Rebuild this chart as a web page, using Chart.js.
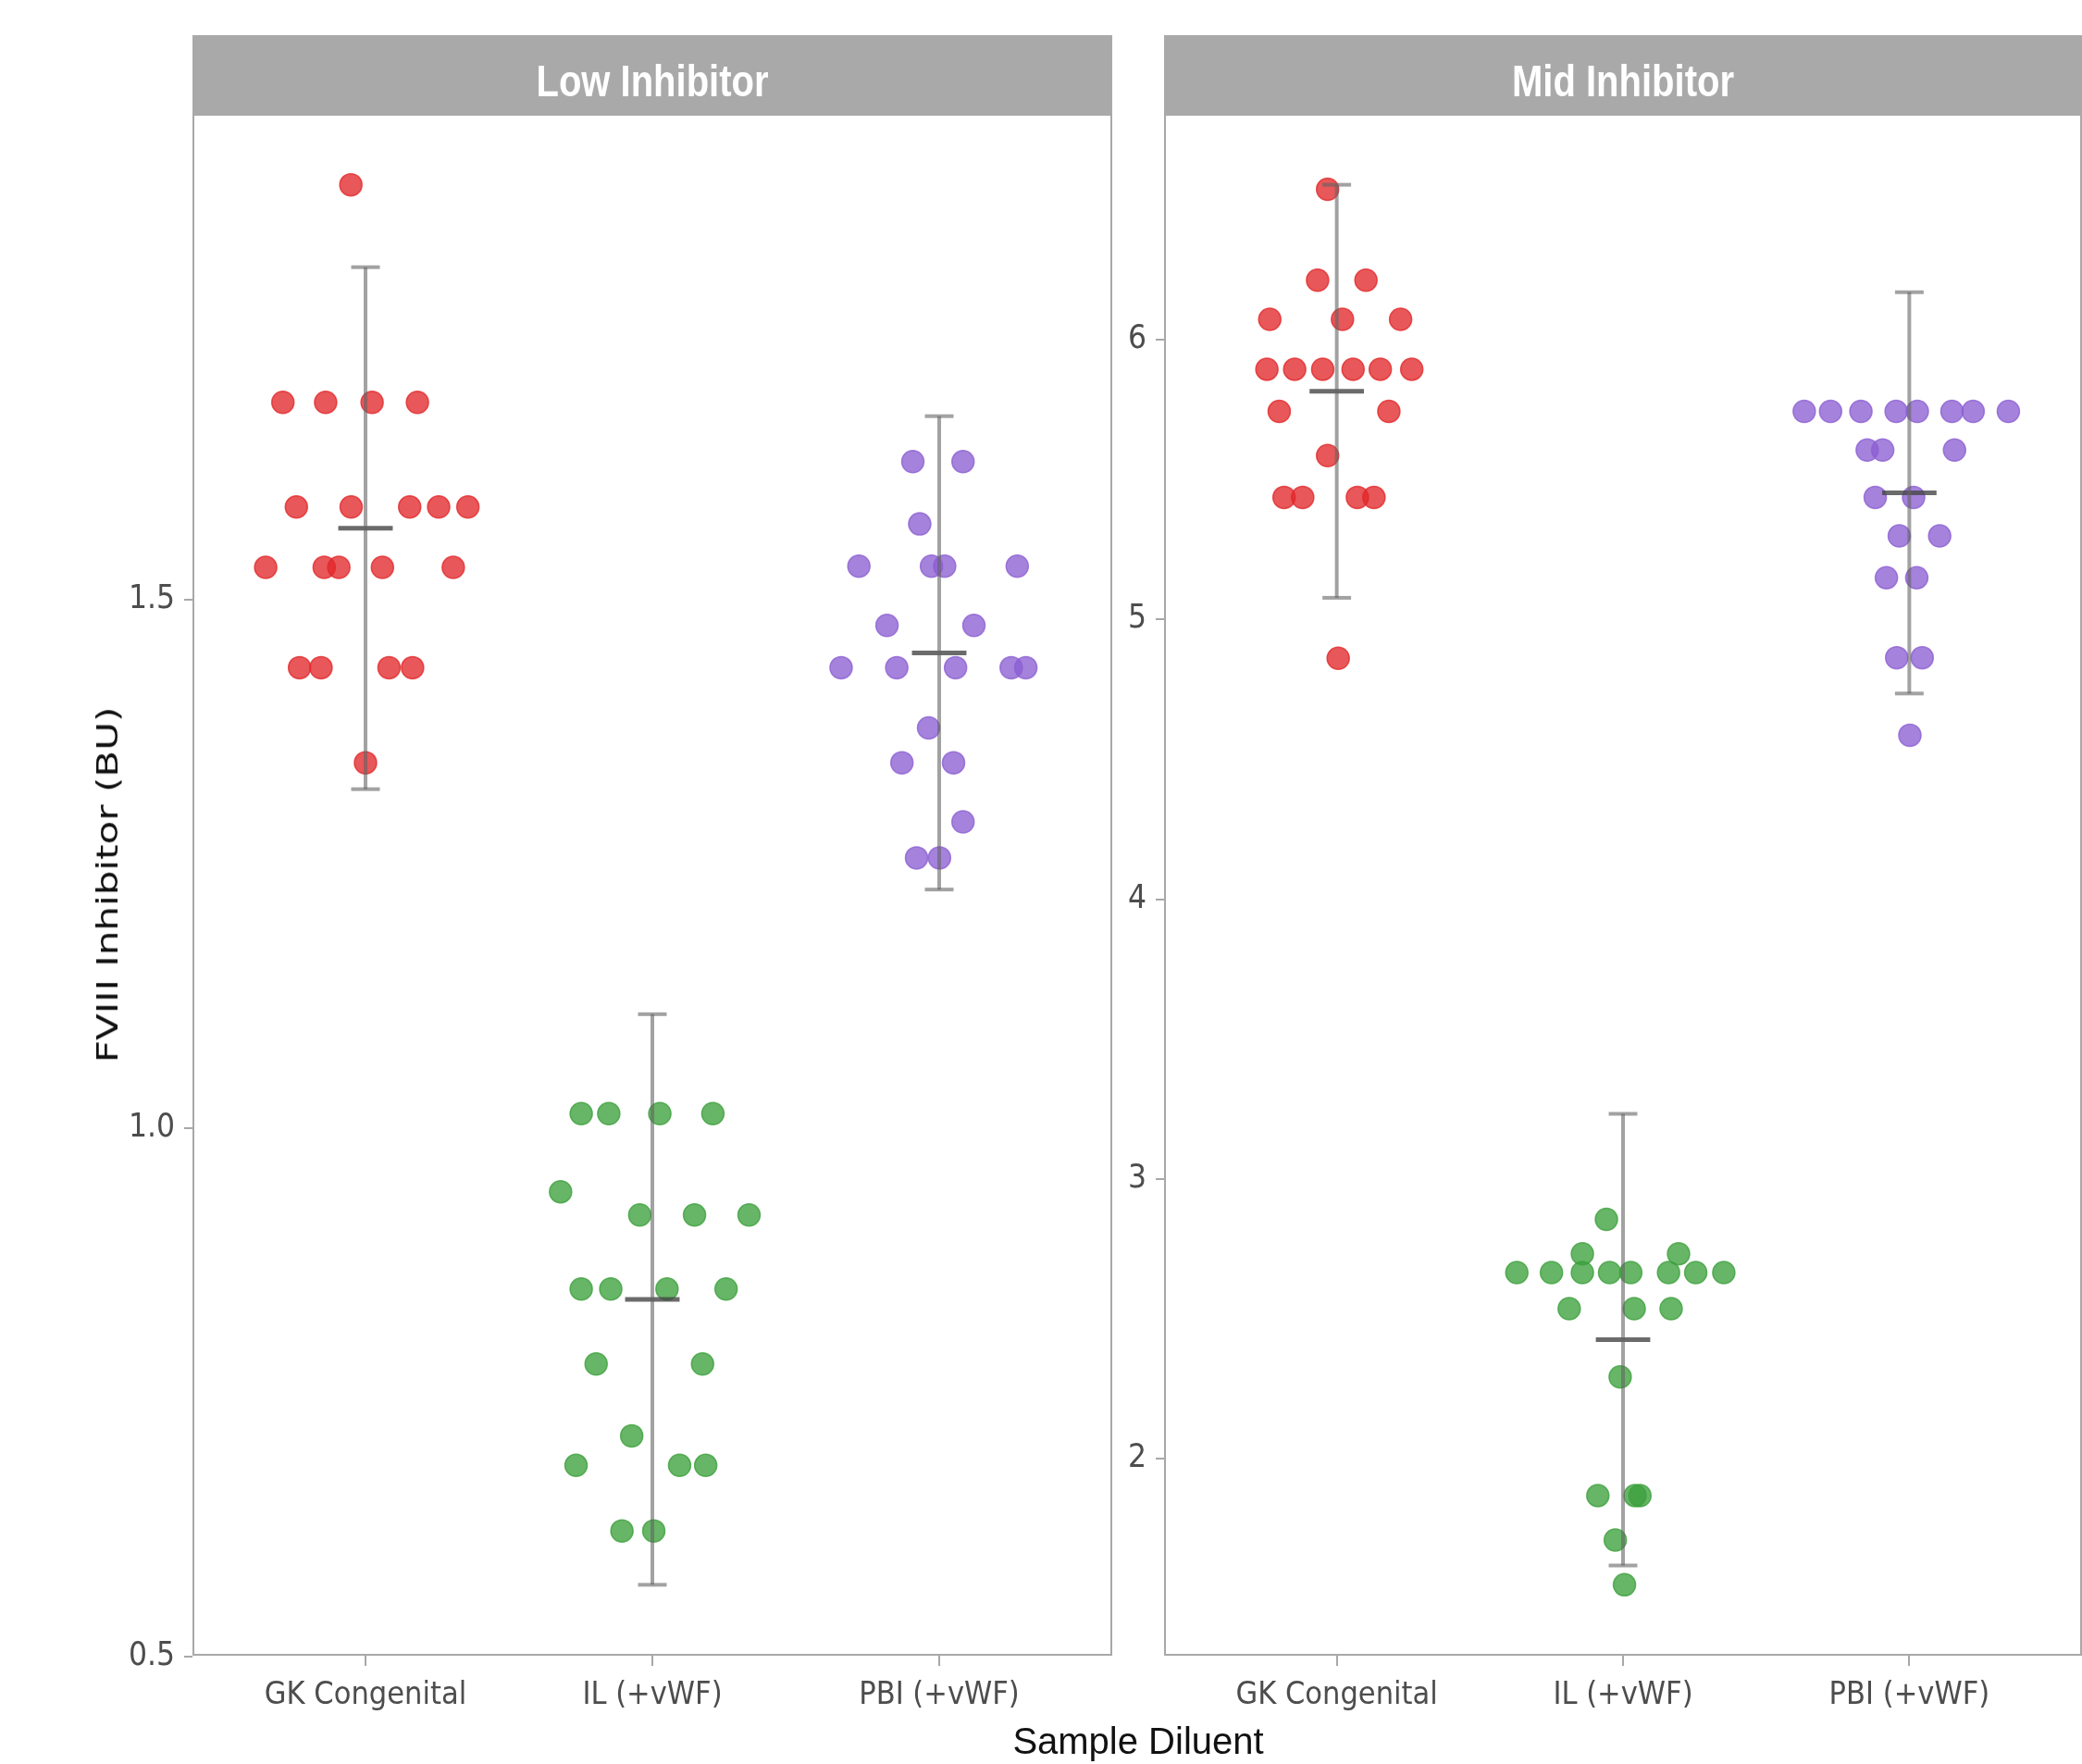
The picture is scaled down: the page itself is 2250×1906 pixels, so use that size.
<!DOCTYPE html>
<html>
<head>
<meta charset="utf-8">
<title>FVIII Inhibitor by Sample Diluent</title>
<script src="https://cdn.jsdelivr.net/npm/chart.js@4.4.0/dist/chart.umd.min.js"></script>
<style>
  html, body { margin: 0; padding: 0; background: #fff; }
  #page { position: relative; width: 2250px; height: 1906px; overflow: hidden; background: #fff; }
  .panel { position: absolute; top: 0; height: 1906px; }
  #panel-low { left: 0; width: 1203px; }
  #panel-mid { left: 1203px; width: 1047px; }
  #y-title {
    position: absolute; left: 116px; top: 956px; white-space: nowrap;
    font: 32px "DejaVu Sans", sans-serif; color: #111; line-height: 32px;
    transform: translate(-50%, -50%) rotate(-90deg);
  }
  #x-title {
    position: absolute; left: 1230px; top: 1861px; white-space: nowrap;
    font: 40px "Liberation Sans", Arial, sans-serif; color: #111; line-height: 40px;
    transform: translateX(-50%);
  }
</style>
</head>
<body>
<div id="page">
  <div class="panel" id="panel-low"><canvas id="chart-low"></canvas></div>
  <div class="panel" id="panel-mid"><canvas id="chart-mid"></canvas></div>
  <div id="y-title">FVIII Inhibitor (BU)</div>
  <div id="x-title">Sample Diluent</div>
</div>
<script>
/* ============================================================
   FVIII inhibitor (BU) by sample diluent, faceted Low / Mid
   ============================================================ */
const categories  = ['GK Congenital', 'IL (+vWF)', 'PBI (+vWF)'];
const panelTitles = ['Low Inhibitor', 'Mid Inhibitor'];

// Low Inhibitor: values (BU) and beeswarm offsets (in category units)
const lowGK       = [1.893, 1.687, 1.687, 1.687, 1.687, 1.588, 1.588, 1.588, 1.588, 1.588, 1.531, 1.531, 1.531, 1.531, 1.531, 1.436, 1.436, 1.436, 1.436, 1.346];
const lowGKJitter = [-0.051, -0.288, -0.139, 0.023, 0.181, -0.241, -0.05, 0.154, 0.255, 0.357, -0.348, -0.144, -0.093, 0.059, 0.306, -0.23, -0.155, 0.082, 0.164, 0.0];
const lowIL       = [1.014, 1.014, 1.014, 1.014, 0.940, 0.918, 0.918, 0.918, 0.848, 0.848, 0.848, 0.848, 0.777, 0.777, 0.709, 0.681, 0.681, 0.681, 0.619, 0.619];
const lowILJitter = [-0.248, -0.152, 0.026, 0.211, -0.320, -0.044, 0.147, 0.337, -0.248, -0.145, 0.051, 0.257, -0.196, 0.175, -0.072, -0.266, 0.095, 0.186, -0.106, 0.005];
const lowPBI       = [1.631, 1.631, 1.572, 1.532, 1.532, 1.532, 1.532, 1.476, 1.476, 1.436, 1.436, 1.436, 1.436, 1.436, 1.379, 1.346, 1.346, 1.290, 1.256, 1.256];
const lowPBIJitter = [-0.092, 0.083, -0.068, -0.280, -0.027, 0.019, 0.272, -0.182, 0.121, -0.342, -0.148, 0.057, 0.251, 0.302, -0.037, -0.130, 0.050, 0.083, -0.079, 0.001];
const lowMeans = [1.568, 0.838, 1.450];
const lowSDs   = [0.247, 0.270, 0.224];
const lowTicks = [0.5, 1.0, 1.5];

// Mid Inhibitor
const midGK       = [6.537, 6.212, 6.212, 6.072, 6.072, 6.072, 5.894, 5.894, 5.894, 5.894, 5.894, 5.894, 5.743, 5.743, 5.585, 5.436, 5.436, 5.436, 5.436, 4.861];
const midGKJitter = [-0.032, -0.067, 0.102, -0.234, 0.020, 0.223, -0.244, -0.147, -0.049, 0.057, 0.152, 0.262, -0.201, 0.182, -0.032, -0.184, -0.119, 0.072, 0.130, 0.005];
const midIL       = [2.856, 2.733, 2.733, 2.666, 2.666, 2.666, 2.666, 2.666, 2.666, 2.666, 2.666, 2.537, 2.537, 2.537, 2.293, 1.869, 1.869, 1.869, 1.710, 1.550];
const midILJitter = [-0.058, -0.142, 0.194, -0.371, -0.250, -0.142, -0.047, 0.027, 0.159, 0.254, 0.352, -0.188, 0.039, 0.168, -0.010, -0.088, 0.042, 0.059, -0.027, 0.005];
const midPBI       = [5.743, 5.743, 5.743, 5.743, 5.743, 5.743, 5.743, 5.743, 5.605, 5.605, 5.605, 5.436, 5.436, 5.298, 5.298, 5.149, 5.149, 4.863, 4.863, 4.586];
const midPBIJitter = [-0.367, -0.275, -0.169, -0.046, 0.028, 0.149, 0.223, 0.346, -0.147, -0.093, 0.158, -0.119, 0.015, -0.035, 0.106, -0.080, 0.026, -0.044, 0.045, 0.002];
const midMeans = [5.815, 2.426, 5.452];
const midSDs   = [0.738, 0.807, 0.717];
const midTicks = [2, 3, 4, 5, 6];

// Styles
const dotColors = ['rgba(226,40,42,0.78)', 'rgba(60,160,60,0.78)', 'rgba(140,95,210,0.78)'];
const barColor  = 'rgba(100,100,100,0.6)';
const meanColor = 'rgba(70,70,70,0.8)';
const tickFont  = '"Liberation Sans Narrow", "Arial Narrow", "DejaVu Sans Condensed", sans-serif';
const axisGrey  = '#a8a8a8';

// strip header + panel frame
const stripPlugin = {
  id: 'strip',
  afterDraw(chart, args, opts) {
    const { ctx, chartArea: a } = chart;
    ctx.save();
    ctx.fillStyle = '#a9a9a9';
    ctx.fillRect(a.left - 1, a.top - 86, a.right - a.left + 2, 86);
    ctx.strokeStyle = axisGrey;
    ctx.lineWidth = 2;
    ctx.strokeRect(a.left, a.top, a.right - a.left, a.bottom - a.top);
    ctx.fillStyle = '#fff';
    ctx.font = 'bold 40px "Liberation Sans", Arial, sans-serif';
    ctx.textAlign = 'center';
    ctx.textBaseline = 'alphabetic';
    ctx.translate((a.left + a.right) / 2, a.top - 20);
    ctx.scale(1, 1.2);
    ctx.fillText(opts.text, 0, 0);
    ctx.restore();
  }
};

function pointDataset(values, jitter, cat) {
  return {
    data: values.map((v, i) => ({ x: cat + jitter[i], y: v })),
    backgroundColor: dotColors[cat - 1],
    borderColor: dotColors[cat - 1],
    borderWidth: 1.5,
    pointRadius: 12,
    order: 2
  };
}

function segment(p1, p2, color, width) {
  return { data: [p1, p2], showLine: true, pointRadius: 0, borderColor: color, borderWidth: width, order: 1 };
}

function errorDatasets(mean, sd, cat) {
  const lo = mean - sd, hi = mean + sd;
  return [
    segment({ x: cat, y: lo }, { x: cat, y: hi }, barColor, 4),
    segment({ x: cat - 0.05, y: hi }, { x: cat + 0.05, y: hi }, barColor, 4),
    segment({ x: cat - 0.05, y: lo }, { x: cat + 0.05, y: lo }, barColor, 4),
    segment({ x: cat - 0.095, y: mean }, { x: cat + 0.095, y: mean }, meanColor, 5)
  ];
}

function buildPanel(canvasId, title, groups, means, sds, yTicks, fmt, yAxisWidth, padRight) {
  // y limits: data + error bars, expanded by 5% (ggplot default)
  const all = groups.flatMap(g => g[0]).concat(means.map((m, i) => m - sds[i]), means.map((m, i) => m + sds[i]));
  const lo = Math.min(...all), hi = Math.max(...all);
  const pad = (hi - lo) * 0.05;

  const datasets = [];
  groups.forEach((g, i) => datasets.push(...errorDatasets(means[i], sds[i], i + 1)));
  groups.forEach((g, i) => datasets.push(pointDataset(g[0], g[1], i + 1)));

  const gridOpts = { drawOnChartArea: false, drawTicks: true, color: axisGrey, lineWidth: 2 };

  return new Chart(document.getElementById(canvasId), {
    type: 'scatter',
    data: { datasets },
    options: {
      responsive: true, maintainAspectRatio: false, animation: false,
      layout: { autoPadding: false, padding: { top: 124, right: padRight, bottom: 0, left: 0 } },
      plugins: { legend: { display: false }, tooltip: { enabled: false }, strip: { text: title } },
      scales: {
        x: {
          type: 'linear', min: 0.4, max: 3.6,
          afterBuildTicks: s => { s.ticks = categories.map((c, i) => ({ value: i + 1 })); },
          afterFit: s => { s.height = 118; },
          ticks: { callback: v => categories[Math.round(v) - 1], color: '#4d4d4d', font: { family: tickFont, size: 34 }, padding: 12, maxRotation: 0, autoSkip: false },
          grid: Object.assign({ tickLength: 12 }, gridOpts),
          border: { display: true, color: axisGrey, width: 2 }
        },
        y: {
          type: 'linear', min: lo - pad, max: hi + pad,
          afterBuildTicks: s => { s.ticks = yTicks.map(v => ({ value: v })); },
          afterFit: s => { s.width = yAxisWidth; },
          ticks: { callback: fmt, color: '#4d4d4d', font: { family: tickFont, size: 35 }, padding: 10 },
          grid: Object.assign({ tickLength: 10 }, gridOpts),
          border: { display: true, color: axisGrey, width: 2 }
        }
      }
    },
    plugins: [stripPlugin]
  });
}

buildPanel('chart-low', panelTitles[0],
  [[lowGK, lowGKJitter], [lowIL, lowILJitter], [lowPBI, lowPBIJitter]],
  lowMeans, lowSDs, lowTicks, v => v.toFixed(1), 209, 2);

buildPanel('chart-mid', panelTitles[1],
  [[midGK, midGKJitter], [midIL, midILJitter], [midPBI, midPBIJitter]],
  midMeans, midSDs, midTicks, v => String(v), 56, 1);

// stretch the y title along its length to match the reference
const yTitle = document.getElementById('y-title');
const k = 385 / yTitle.offsetWidth;
yTitle.style.transform = `translate(-50%, -50%) rotate(-90deg) scaleX(${k})`;
</script>
</body>
</html>
